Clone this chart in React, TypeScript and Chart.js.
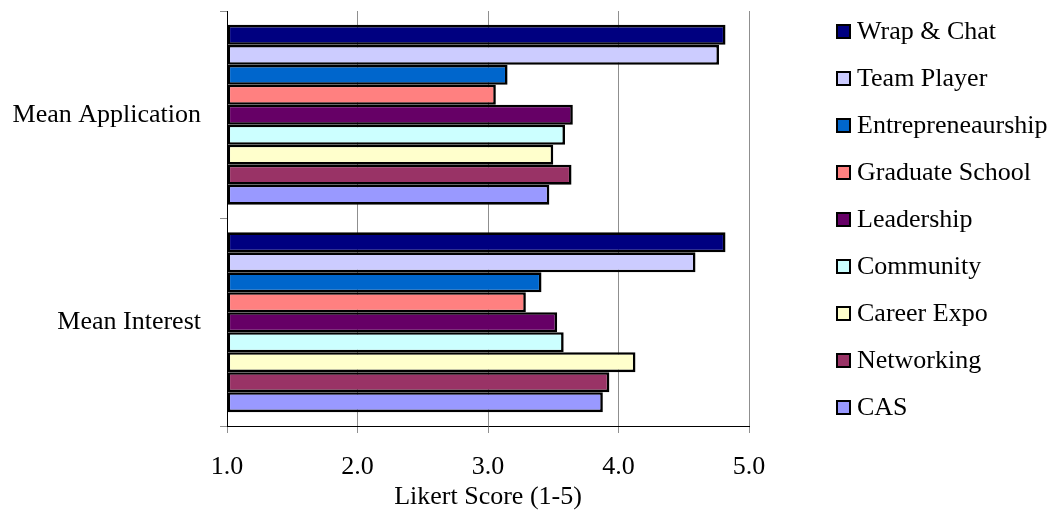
import React, { useEffect, useRef } from "react";
import { Chart, registerables } from "chart.js";

Chart.register(...registerables);

// Groups shown on the vertical axis, top to bottom
const categories = ["Mean Application", "Mean Interest"];

// Program names (legend order, top bar of each group first)
const seriesNames = [
  "Wrap & Chat",
  "Team Player",
  "Entrepreneaurship",
  "Graduate School",
  "Leadership",
  "Community",
  "Career Expo",
  "Networking",
  "CAS",
];

const seriesColors = [
  "#000080",
  "#CCCCFF",
  "#0066CC",
  "#FF8080",
  "#660066",
  "#CCFFFF",
  "#FFFFCC",
  "#993366",
  "#9999FF",
];

// Mean Likert scores: [Mean Application, Mean Interest]
const wrapChat = [4.82, 4.82];
const teamPlayer = [4.77, 4.59];
const entrepreneaurship = [3.15, 3.41];
const graduateSchool = [3.06, 3.29];
const leadership = [3.65, 3.53];
const community = [3.59, 3.58];
const careerExpo = [3.5, 4.13];
const networking = [3.64, 3.93];
const cas = [3.47, 3.88];

const seriesValues = [
  wrapChat,
  teamPlayer,
  entrepreneaurship,
  graduateSchool,
  leadership,
  community,
  careerExpo,
  networking,
  cas,
];

// Value axis
const axisMin = 1;
const axisMax = 5;
const axisStep = 1;
const axisTitle = "Likert Score (1-5)";

const FONT_FAMILY = '"Liberation Serif", "Times New Roman", serif';

// Legend drawn beside the plot, one entry per dataset
const sideLegend = {
  id: "sideLegend",
  afterDraw(chart: any) {
    const ctx = chart.ctx as CanvasRenderingContext2D;
    const top = 31;
    const step = 47.05;
    ctx.save();
    ctx.font = `26px ${FONT_FAMILY}`;
    ctx.textBaseline = "alphabetic";
    ctx.textAlign = "left";
    chart.data.datasets.forEach((ds: any, i: number) => {
      const cy = top + i * step;
      const bx = 836;
      const by = Math.round(cy - 7.5);
      ctx.fillStyle = ds.backgroundColor;
      ctx.fillRect(bx, by, 15, 15);
      ctx.lineWidth = 2;
      ctx.strokeStyle = "#000";
      ctx.strokeRect(bx + 1, by + 1, 13, 13);
      ctx.fillStyle = "#000";
      ctx.fillText(ds.label, 857, cy + 8);
    });
    ctx.restore();
  },
};

export default function App() {
  const canvasRef = useRef<HTMLCanvasElement | null>(null);

  useEffect(() => {
    if (!canvasRef.current) return;
    const chart = new Chart(canvasRef.current, {
      type: "bar",
      data: {
        labels: categories,
        datasets: seriesNames.map((name, i) => ({
          label: name,
          data: seriesValues[i],
          backgroundColor: seriesColors[i],
          borderColor: "#000000",
          borderWidth: 2.6,
          borderSkipped: false,
          base: axisMin,
          categoryPercentage: 0.867,
          barPercentage: 1.0,
        })),
      },
      options: {
        indexAxis: "y",
        responsive: false,
        animation: false,
        devicePixelRatio: 1,
        layout: { padding: { left: 0, top: 11, right: 305, bottom: 0 } },
        plugins: {
          legend: { display: false },
          tooltip: { enabled: false },
        },
        scales: {
          x: {
            type: "linear",
            min: axisMin,
            max: axisMax,
            afterFit(scale: any) {
              scale.height = 89;
              scale.paddingLeft = 0;
              scale.paddingRight = 0;
            },
            ticks: {
              stepSize: axisStep,
              color: "#000",
              padding: 19,
              font: { family: FONT_FAMILY, size: 26 },
              callback: (v: any) => Number(v).toFixed(1),
            },
            grid: {
              color: "#8f8f8f",
              tickColor: "#8f8f8f",
              tickLength: 7,
              lineWidth: 1,
            },
            border: { display: true, color: "#000", width: 1 },
            title: {
              display: true,
              text: axisTitle,
              color: "#000",
              font: { family: FONT_FAMILY, size: 26 },
              padding: { top: 0, bottom: 2 },
            },
          },
          y: {
            type: "category",
            afterFit(scale: any) {
              scale.width = 227;
              scale.paddingTop = 0;
              scale.paddingBottom = 0;
            },
            ticks: {
              color: "#000",
              padding: 19,
              font: { family: FONT_FAMILY, size: 26 },
            },
            grid: {
              offset: true,
              drawOnChartArea: false,
              drawTicks: true,
              tickLength: 7,
              tickColor: "#8f8f8f",
              color: "#8f8f8f",
            },
            border: { display: true, color: "#000", width: 1 },
          },
        },
      } as any,
      plugins: [sideLegend],
    });
    return () => chart.destroy();
  }, []);

  return (
    <div style={{ position: "absolute", left: 0, top: 0, width: 1054, height: 515, background: "#fff" }}>
      <canvas ref={canvasRef} width={1054} height={515} />
    </div>
  );
}
